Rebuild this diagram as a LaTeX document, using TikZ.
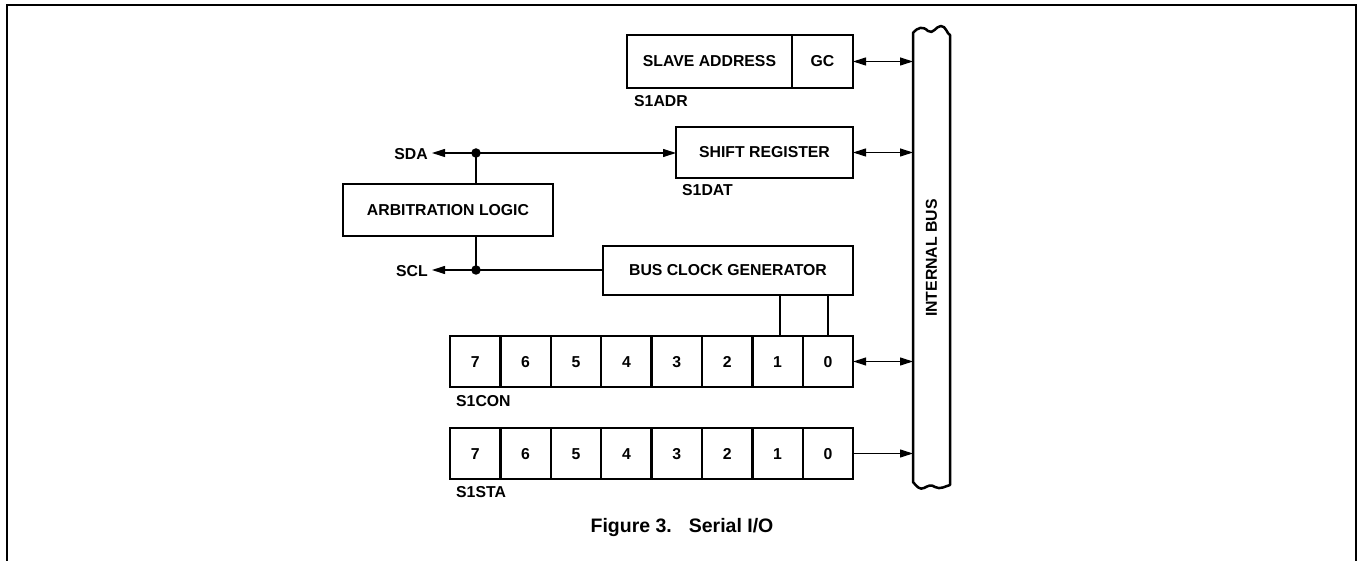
\documentclass[tikz,border=0pt]{standalone}
\usepackage{fontspec}
\setmainfont{Liberation Sans}
\usetikzlibrary{arrows.meta}
\begin{document}
\begin{tikzpicture}[x=1pt,y=-1pt,
  box/.style={draw, line width=2.4pt, inner sep=0pt, outer sep=0pt, anchor=north west, font=\fontsize{15.8}{18}\selectfont\bfseries},
  cell/.style={box, minimum width=50.4pt, minimum height=51pt, text height=11.3pt, text depth=0pt},
  lbl/.style={inner sep=0pt, anchor=west, font=\fontsize{15.8}{18}\selectfont\bfseries},
  wire/.style={line width=1.1pt},
  tip/.style={-{Triangle[length=13pt,width=8pt]}},
  dtip/.style={{Triangle[length=13pt,width=8pt]}-{Triangle[length=13pt,width=8pt]}},
  dot/.style={circle, fill, inner sep=0pt, minimum size=9.5pt}]
\useasboundingbox (0,0) rectangle (1358,561);
\draw[line width=2.5pt] (7,561) -- (7,5) -- (1356,5) -- (1356,561);

% internal bus
\draw[line width=2.5pt, line join=round] (913,33) -- (913,482)
  .. controls (917,487) and (920,490) .. (924,488)
  .. controls (928,486) and (931,484) .. (935,487)
  .. controls (940,490) and (946,486) .. (950,485) -- (950,35)
  .. controls (947,34) and (946,26) .. (941,26)
  .. controls (936,26) and (933,35) .. (928,31)
  .. controls (923,26) and (918,27) .. cycle;
\coordinate (busL) at (913,0);
\node[rotate=90, inner sep=0pt, font=\fontsize{15.8}{18}\selectfont\bfseries] (bustxt) at (931.5,258) {INTERNAL BUS};

% registers
\node[box, minimum width=165pt, minimum height=53pt] (sa) at (627,35) {SLAVE ADDRESS};
\node[box, minimum width=61pt, minimum height=53pt] (gc) at (792,35) {GC};
\node[lbl] (s1adr) at (634,101) {S1ADR};

\node[box, minimum width=177pt, minimum height=51pt] (sr) at (676,127) {SHIFT REGISTER};
\node[lbl] (s1dat) at (682,190) {S1DAT};

\node[box, minimum width=210pt, minimum height=52pt] (al) at (343,184) {ARBITRATION LOGIC};
\node[box, minimum width=250pt, minimum height=49pt] (bcg) at (603,246) {BUS CLOCK GENERATOR};

\foreach \i/\d in {0/7,1/6,2/5,3/4,4/3,5/2,6/1,7/0}{
  \node[cell] (con\d) at ({450+50.4*\i},336) {\d};
  \node[cell] (sta\d) at ({450+50.4*\i},428) {\d};
}
\node[lbl] (s1con) at (456,401) {S1CON};
\node[lbl] (s1sta) at (456,492) {S1STA};

% SDA / SCL
\node[dot] (sdadot) at (476,153) {};
\node[dot] (scldot) at (476,270) {};
\node[lbl, anchor=east] (sda) at (428,154) {SDA};
\node[lbl, anchor=east] (scl) at (428,271) {SCL};
\draw[wire,tip] (sdadot.center) -- ([xshift=4pt]sda.east |- sdadot);
\draw[wire,tip] (scldot.center) -- ([xshift=4pt]scl.east |- scldot);
\draw[wire,tip] (sdadot.center) -- (sdadot -| sr.west);
\draw[wire] (sdadot.center) -- (al.north -| sdadot);
\draw[wire] (al.south -| sdadot) -- (scldot.center);
\draw[wire] (scldot.center) -- (scldot -| bcg.west);

% control bits to clock generator
\draw[line width=2.2pt] ([xshift=2pt]con1.north) -- ([xshift=2pt]con1.north |- bcg.south);
\draw[line width=2.2pt] (con0.north) -- (con0.north |- bcg.south);

% bus connections
\draw[wire,dtip] (gc.east) -- (gc.east -| busL);
\draw[wire,dtip] (sr.east) -- (sr.east -| busL);
\draw[wire,dtip] (con0.east) -- (con0.east -| busL);
\draw[wire,tip] (sta0.east) -- (sta0.east -| busL);

\node[font=\fontsize{19.5}{22}\selectfont\bfseries] (cap) at (682,528) {Figure 3.\hspace{17pt}Serial I/O};
\end{tikzpicture}
\end{document}
